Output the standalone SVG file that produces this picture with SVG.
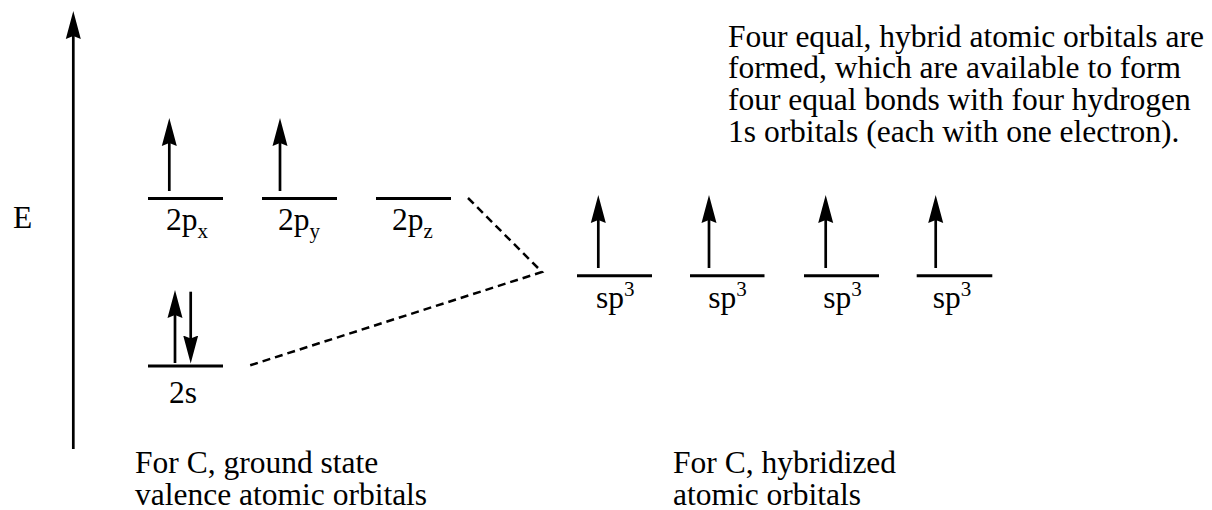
<svg xmlns="http://www.w3.org/2000/svg" width="1212" height="510" viewBox="0 0 1212 510" font-family="'Liberation Serif', 'Times New Roman', 'DejaVu Serif', serif">
<style>
text{font-family:'Liberation Serif','Times New Roman','DejaVu Serif',serif;font-size:31.5px;fill:#000}
.sub{font-size:21px}
.lvl{stroke:#000;stroke-width:3;fill:none}
.shaft{stroke:#000;stroke-width:2.7;fill:none}
.dash{stroke:#000;stroke-width:2.5;fill:none;stroke-dasharray:8 5}
</style>
<defs>
<marker id="ah" markerUnits="userSpaceOnUse" markerWidth="30" markerHeight="16" viewBox="0 0 30 16" refX="8" refY="8" orient="auto">
<path d="M0,0.5 L28,8 L0,15.5 L3,8 Z" fill="#000"/>
</marker>
</defs>
<g id="axis">
<line class="shaft" x1="73.3" y1="449" x2="73.3" y2="31" marker-end="url(#ah)"/>
<text x="13" y="228">E</text>
</g>
<g id="orb-2px">
<line class="lvl" x1="148" y1="198.5" x2="223" y2="198.5"/>
<line class="shaft" x1="169.3" y1="191" x2="169.3" y2="138" marker-end="url(#ah)"/>
<text x="166" y="230">2p<tspan class="sub" dy="8">x</tspan></text>
</g>
<g id="orb-2py">
<line class="lvl" x1="262" y1="198.5" x2="337" y2="198.5"/>
<line class="shaft" x1="280" y1="191" x2="280" y2="138" marker-end="url(#ah)"/>
<text x="278" y="230">2p<tspan class="sub" dy="8">y</tspan></text>
</g>
<g id="orb-2pz">
<line class="lvl" x1="376" y1="198.5" x2="451" y2="198.5"/>
<text x="392" y="230">2p<tspan class="sub" dy="8">z</tspan></text>
</g>
<g id="orb-2s">
<line class="lvl" x1="148" y1="366" x2="223" y2="366"/>
<line class="shaft" x1="175" y1="363" x2="175" y2="310" marker-end="url(#ah)"/>
<line class="shaft" x1="190.7" y1="291.7" x2="190.7" y2="343.5" marker-end="url(#ah)"/>
<text x="169" y="403">2s</text>
</g>
<g id="orb-sp3-1">
<line class="lvl" x1="577" y1="275.7" x2="652" y2="275.7"/>
<line class="shaft" x1="598.3" y1="268" x2="598.3" y2="215" marker-end="url(#ah)"/>
<text x="596" y="308">sp<tspan class="sub" dy="-12">3</tspan></text>
</g>
<g id="orb-sp3-2">
<line class="lvl" x1="690" y1="275.7" x2="764.5" y2="275.7"/>
<line class="shaft" x1="709" y1="268" x2="709" y2="215" marker-end="url(#ah)"/>
<text x="708.3" y="308">sp<tspan class="sub" dy="-12">3</tspan></text>
</g>
<g id="orb-sp3-3">
<line class="lvl" x1="804" y1="275.7" x2="879" y2="275.7"/>
<line class="shaft" x1="825.7" y1="268" x2="825.7" y2="215" marker-end="url(#ah)"/>
<text x="823.3" y="308">sp<tspan class="sub" dy="-12">3</tspan></text>
</g>
<g id="orb-sp3-4">
<line class="lvl" x1="916.7" y1="275.7" x2="992.3" y2="275.7"/>
<line class="shaft" x1="935.7" y1="268" x2="935.7" y2="215" marker-end="url(#ah)"/>
<text x="932.7" y="308">sp<tspan class="sub" dy="-12">3</tspan></text>
</g>
<g id="connectors">
<polyline class="dash" points="468,198 542,272 248,366"/>
</g>
<g id="note">
<text x="728" y="46.7">Four equal, hybrid atomic orbitals are</text>
<text x="728" y="78.3">formed, which are available to form</text>
<text x="728" y="110">four equal bonds with four hydrogen</text>
<text x="728" y="141.7">1s orbitals (each with one electron).</text>
</g>
<g id="caption-ground">
<text x="135" y="473">For C, ground state</text>
<text x="135" y="505">valence atomic orbitals</text>
</g>
<g id="caption-hybrid">
<text x="673" y="473">For C, hybridized</text>
<text x="673" y="505">atomic orbitals</text>
</g>
</svg>
